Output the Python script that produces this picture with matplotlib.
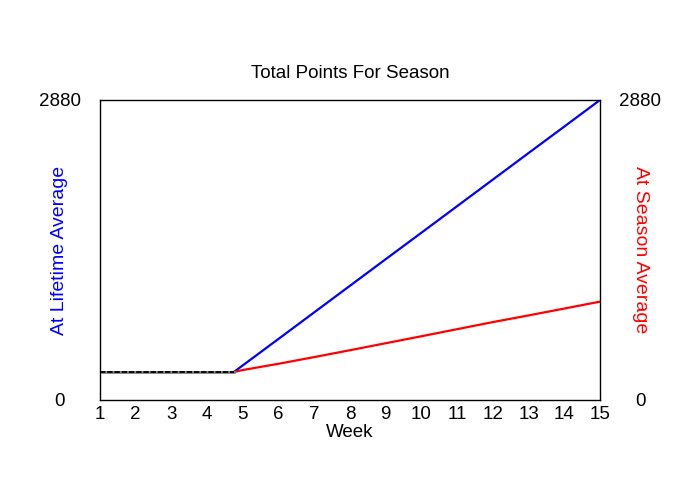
import numpy as np
import matplotlib
matplotlib.use('Agg')
import matplotlib.pyplot as plt

plt.rcParams['font.family'] = ['Liberation Sans', 'DejaVu Sans']

# flat period (both series identical before the change)
flat_weeks = [1, 2, 3, 4, 4.75]
flat_pts = [269, 269, 269, 269, 269]

# after the change
weeks = [4.75, 5, 6, 7, 8, 9, 10, 11, 12, 13, 14, 15]
lifetime_avg = [269, 333, 587, 842, 1097, 1352, 1606, 1861, 2116, 2371, 2625, 2880]
season_avg = [269, 288, 348, 412, 478, 545, 612, 680, 748, 812, 878, 944]

ymax = 2880
xticks = list(range(1, 16))

fig = plt.figure(figsize=(7, 5), dpi=100)
ax = fig.add_axes([100/700, 0.2, 500/700, 0.6])

ax.plot(weeks, lifetime_avg, color='#0000ff', lw=1.6)
ax.plot(weeks, season_avg, color='#ff0000', lw=1.6)
ax.plot(flat_weeks, flat_pts, color='#808080', lw=2)
ax.plot(flat_weeks, flat_pts, color='black', lw=1.3, ls=(0, (3, 1)))

ax.set_xlim(1, 15)
ax.set_ylim(0, ymax)
ax.set_xticks(xticks)
ax.tick_params(axis='x', length=0, pad=4, labelsize=13.5)

ax.set_yticks([0, ymax])
ax.set_yticklabels(['0', str(ymax)])
ax.tick_params(axis='y', length=0, pad=29, labelsize=13.5, labelright=True)
for t in ax.yaxis.get_major_ticks():
    t.label1.set_horizontalalignment('center')
    t.label2.set_horizontalalignment('center')

ax.set_xlabel('Week', fontsize=13.5, labelpad=1)
ax.set_title('Total Points For Season', fontsize=13.5, pad=16)

fig.text(60/700, 0.5, 'At Lifetime Average', color='#0000ff', fontsize=14,
         rotation=90, ha='center', va='center')
fig.text(640/700, 0.5, 'At Season Average', color='#ff0000', fontsize=14,
         rotation=270, ha='center', va='center')

for s in ax.spines.values():
    s.set_linewidth(1.0)

fig.savefig('out.png', dpi=100)
